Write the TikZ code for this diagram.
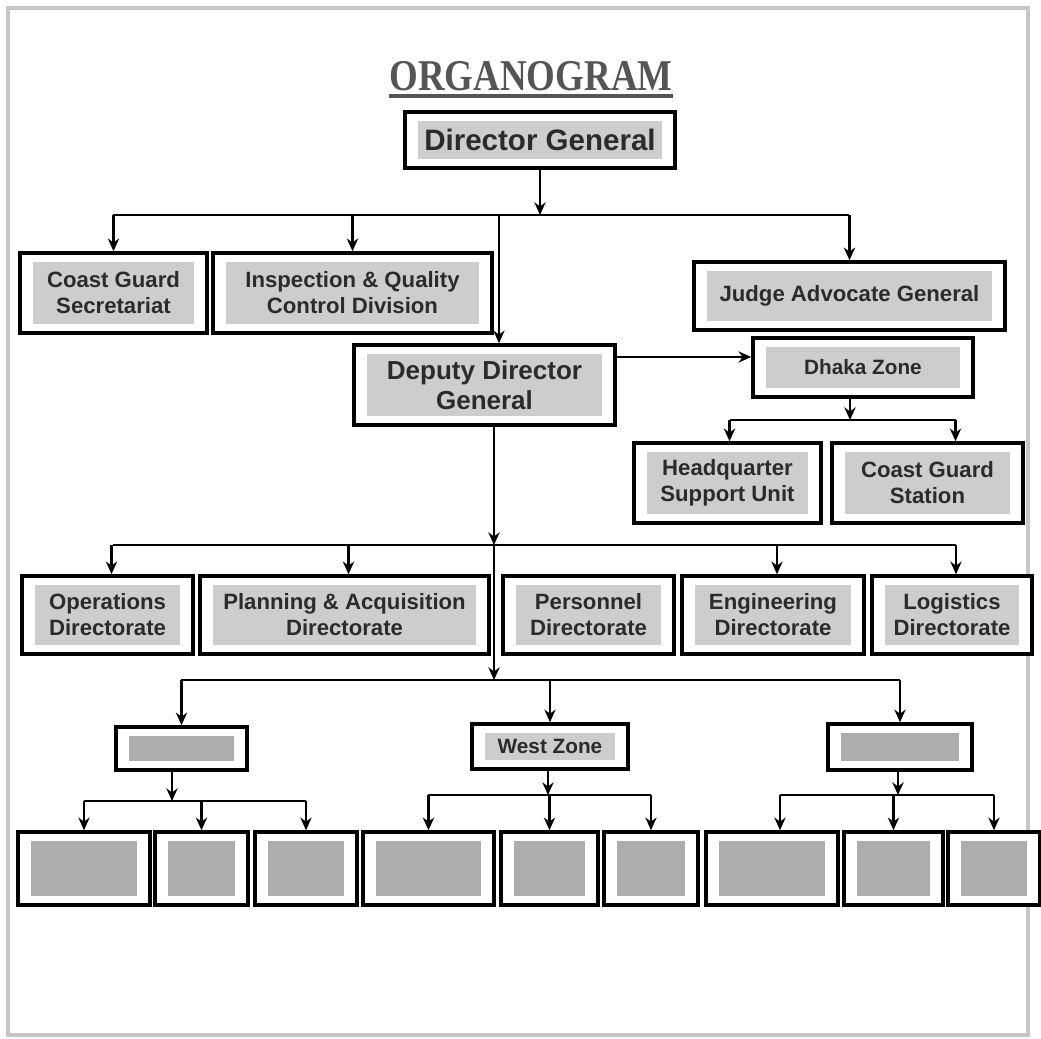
\documentclass[tikz,border=0pt]{standalone}
\usepackage{fontspec}
\usetikzlibrary{arrows.meta, positioning}
\newfontfamily\labelfamily{Liberation Sans}
\newfontfamily\titlefamily{Liberation Serif}
\definecolor{framegrey}{HTML}{C6C6C6}
\definecolor{labelgrey}{HTML}{CDCDCD}
\definecolor{blankgrey}{HTML}{ADADAD}
\definecolor{inkgrey}{HTML}{2B2B2B}
\definecolor{titlegrey}{HTML}{555555}
\newcommand{\unitfont}{\labelfamily\bfseries\fontsize{6.3}{7.4}\selectfont}
\newcommand{\ddgfont}{\labelfamily\bfseries\fontsize{7.4}{8.6}\selectfont}
\newcommand{\dgfont}{\labelfamily\bfseries\fontsize{8.4}{9.6}\selectfont}
\newcommand{\zonefont}{\labelfamily\bfseries\fontsize{5.9}{7}\selectfont}
\tikzset{
    unit/.style={
        rectangle,
        draw=black,
        line width=1pt,
        fill=white,
        align=center,
        text=inkgrey,
        font=\unitfont,
        inner sep=0pt,
        path picture={\fill[#1] ([shift={(13,9)}]path picture bounding box.north west)
            rectangle ([shift={(-13,-9)}]path picture bounding box.south east);}
    },
    unit/.default=labelgrey,
    boxsize/.style 2 args={
        minimum width=#1cm,
        minimum height=#2cm
    },
    link/.style={
        line width=0.6pt
    },
    arrow/.style={
        link,
        -{Stealth[length=3.6pt,width=3.2pt]}
    }
}
\begin{document}
\begin{tikzpicture}[x=0.01cm, y=-0.01cm]
    \useasboundingbox (0,0) rectangle (1041,1039);
    \draw [framegrey, line width=0.9pt] (8,8) rectangle (1028,1035);
    % title
    \node (title) [anchor=base, inner sep=0pt, text=titlegrey,
        font=\titlefamily\bfseries\fontsize{12.5}{14}\selectfont] at (531,90)
        {\scalebox{0.84}[1]{ORGANOGRAM}};
    \draw [titlegrey, line width=1.1pt] ([yshift=-1.6pt]title.base west) -- ([yshift=-1.6pt]title.base east);
    % top level
    \node (dg) [unit, boxsize={2.70}{0.56}, font=\dgfont] at (540,140) {Director General};
    \node (cgs) [unit, boxsize={1.87}{0.80}] at (113.5,293) {Coast Guard\\Secretariat};
    \node (iqcd) [unit, boxsize={2.79}{0.80}] at (352.5,293) {Inspection \& Quality\\Control Division};
    \node (jag) [unit, boxsize={3.11}{0.68}] at (849.5,296) {Judge Advocate General};
    \node (ddg) [unit, boxsize={2.61}{0.80}, font=\ddgfont] at (484.5,385) {Deputy Director\\General};
    \node (dhaka) [unit, boxsize={2.20}{0.59}, font=\zonefont] at (863,367.5) {Dhaka Zone};
    \node (hsu) [unit, boxsize={1.87}{0.80}] at (727.5,483) {Headquarter\\Support Unit};
    \node (cgst) [unit, boxsize={1.91}{0.80}] at (927.5,483) {Coast Guard\\Station};
    % directorates
    \node (ops) [unit, boxsize={1.71}{0.78}] at (107.5,615) {Operations\\Directorate};
    \node (plan) [unit, boxsize={2.89}{0.78}] at (344.5,615) {Planning \& Acquisition\\Directorate};
    \node (pers) [unit, boxsize={1.71}{0.78}] at (588.5,615) {Personnel\\Directorate};
    \node (engg) [unit, boxsize={1.82}{0.78}] at (773,615) {Engineering\\Directorate};
    \node (logi) [unit, boxsize={1.60}{0.78}] at (952,615) {Logistics\\Directorate};
    % zones
    \node (zoneL) [unit=blankgrey, boxsize={1.31}{0.43}] at (181.5,748.5) {};
    \node (zoneW) [unit, boxsize={1.56}{0.45}, font=\zonefont] at (550,746.5) {West Zone};
    \node (zoneR) [unit=blankgrey, boxsize={1.44}{0.46}] at (900,747) {};
    \foreach \n/\x/\w in {b1/84/1.32, b2/201.5/0.93, b3/306/1.02, b4/428.5/1.31, b5/549.5/0.97,
        b6/651/0.94, b7/772/1.32, b8/893.5/0.99, b9/994/0.92}
        \node (\n) [unit=blankgrey, boxsize={\w}{0.73}] at (\x,868.5) {};
    % junctions
    \coordinate (busA) at (499,215);
    \coordinate (busB) at (850,420);
    \coordinate (busC) at (494,545);
    \coordinate (busD) at (494,680);
    \coordinate (busE) at (172,801);
    \coordinate (busF) at (548,795);
    \coordinate (busG) at (898,795);
    % connectors
    \draw [arrow] (dg.south) -- (dg.south |- busA);
    \draw [link] (cgs.north |- busA) -- (jag.north |- busA);
    \foreach \n in {cgs, iqcd, jag}
        \draw [arrow] (\n.north |- busA) -- (\n.north);
    \draw [arrow] (busA) -- (busA |- ddg.north);
    \draw [arrow] ([yshift=0.28cm]ddg.east) -- ([yshift=0.28cm]ddg.east -| dhaka.west);
    \draw [arrow] (dhaka.south -| busB) -- (busB);
    \draw [link] ([xshift=0.02cm]hsu.north |- busB) -- ([xshift=0.28cm]cgst.north |- busB);
    \draw [arrow] ([xshift=0.02cm]hsu.north |- busB) -- ([xshift=0.02cm]hsu.north);
    \draw [arrow] ([xshift=0.28cm]cgst.north |- busB) -- ([xshift=0.28cm]cgst.north);
    \draw [arrow] (ddg.south -| busC) -- (busC);
    \draw [link] ([xshift=0.05cm]ops.north |- busC) -- ([xshift=0.04cm]logi.north |- busC);
    \foreach \n in {ops, plan, engg, logi}
        \draw [arrow] ([xshift=0.04cm]\n.north |- busC) -- ([xshift=0.04cm]\n.north);
    \draw [arrow] (busC) -- (busD);
    \draw [link] (zoneL.north |- busD) -- (zoneR.north |- busD);
    \foreach \n in {zoneL, zoneW, zoneR}
        \draw [arrow] (\n.north |- busD) -- (\n.north);
    \draw [arrow] (zoneL.south -| busE) -- (busE);
    \draw [link] (b1.north |- busE) -- (b3.north |- busE);
    \foreach \n in {b1, b2, b3}
        \draw [arrow] (\n.north |- busE) -- (\n.north);
    \draw [arrow] (zoneW.south -| busF) -- (busF);
    \draw [link] (b4.north |- busF) -- (b6.north |- busF);
    \foreach \n in {b4, b5, b6}
        \draw [arrow] (\n.north |- busF) -- (\n.north);
    \draw [arrow] (zoneR.south -| busG) -- (busG);
    \draw [link] ([xshift=0.08cm]b7.north |- busG) -- (b9.north |- busG);
    \draw [arrow] ([xshift=0.08cm]b7.north |- busG) -- ([xshift=0.08cm]b7.north);
    \foreach \n in {b8, b9}
        \draw [arrow] (\n.north |- busG) -- (\n.north);
\end{tikzpicture}
\end{document}
